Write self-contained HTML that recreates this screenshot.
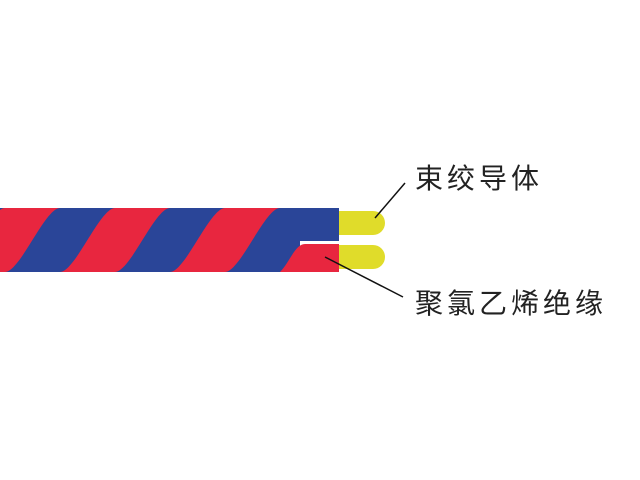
<!DOCTYPE html>
<html><head><meta charset="utf-8"><style>
html,body{margin:0;padding:0;background:#fff;width:640px;height:480px;overflow:hidden}
.t{position:absolute;font-family:"Liberation Sans","Noto Sans CJK SC",sans-serif;font-size:28px;color:#222;letter-spacing:4px;line-height:1;white-space:nowrap}
</style></head><body>
<svg width="640" height="480" style="position:absolute;left:0;top:0">
<defs><clipPath id="c"><rect x="0" y="208" width="300" height="64"/></clipPath></defs>
<g clip-path="url(#c)">
<rect x="0" y="208" width="300" height="64" fill="#2a4598"/>
<g fill="#e8263f">
<path d="M-105 208 L-50 208 C-65 208 -90 272 -105 272 L-160 272 C-145 272 -120 208 -105 208Z"/>
<path d="M5 208 L60 208 C45 208 20 272 5 272 L-50 272 C-35 272 -10 208 5 208Z"/>
<path d="M115 208 L170 208 C155 208 130 272 115 272 L60 272 C75 272 100 208 115 208Z"/>
<path d="M225 208 L280 208 C265 208 240 272 225 272 L170 272 C185 272 210 208 225 208Z"/>
<path d="M335 208 L390 208 C375 208 350 272 335 272 L280 272 C295 272 320 208 335 208Z"/>
</g>
</g>
<path d="M280 272 C290 262 295 244 305 244 L339 244 L339 272 Z" fill="#e8263f"/>
<rect x="298" y="208" width="41" height="33" fill="#2a4598"/>
<rect x="300" y="241" width="39" height="3" fill="#fff"/>
<path d="M339 211 H373 A12 12 0 0 1 373 235 H339Z" fill="#e0dc2a"/>
<path d="M339 245 H373 A12 12 0 0 1 373 269 H339Z" fill="#e0dc2a"/>
<line x1="375" y1="218" x2="405" y2="183" stroke="#111" stroke-width="1.5"/>
<line x1="325" y1="257" x2="403" y2="297" stroke="#111" stroke-width="1.5"/>
</svg>
<div class="t" style="left:415px;top:165px">束绞导体</div>
<div class="t" style="left:415px;top:290px">聚氯乙烯绝缘</div>
</body></html>
